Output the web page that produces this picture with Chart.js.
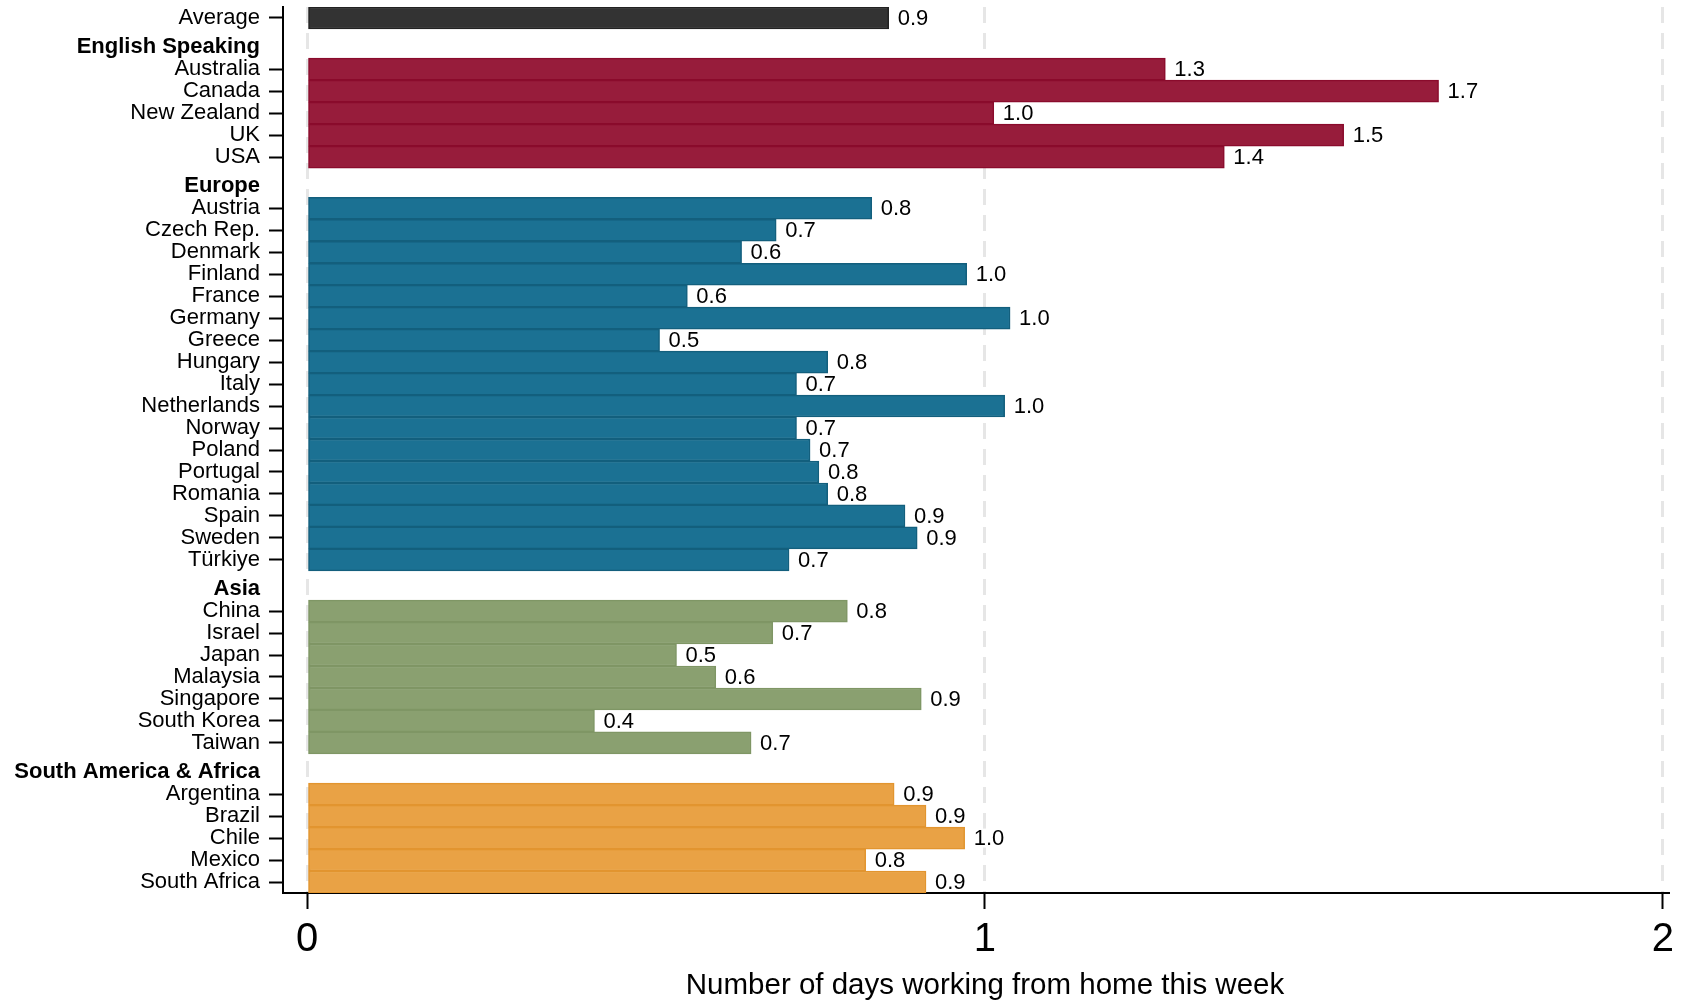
<!DOCTYPE html>
<html>
<head>
<meta charset="utf-8">
<script src="https://cdn.jsdelivr.net/npm/chart.js@4"></script>
<style>
  body { margin: 0; background: #fff; }
  #wrap { width: 1690px; height: 1000px; position: relative; }
</style>
</head>
<body>
<div id="wrap"><canvas id="chart"></canvas></div>
<script>
// Data
const averageLabels = ['Average'];
const averageValues = [0.858];

const englishCountries = ['Australia', 'Canada', 'New Zealand', 'UK', 'USA'];
const englishValues = [1.266, 1.669, 1.013, 1.529, 1.353];

const europeCountries = ['Austria', 'Czech Rep.', 'Denmark', 'Finland', 'France', 'Germany', 'Greece',
  'Hungary', 'Italy', 'Netherlands', 'Norway', 'Poland', 'Portugal', 'Romania', 'Spain', 'Sweden', 'Türkiye'];
const europeValues = [0.833, 0.692, 0.641, 0.973, 0.561, 1.037, 0.520, 0.768, 0.722, 1.029,
  0.722, 0.742, 0.755, 0.768, 0.882, 0.900, 0.711];

const asiaCountries = ['China', 'Israel', 'Japan', 'Malaysia', 'Singapore', 'South Korea', 'Taiwan'];
const asiaValues = [0.797, 0.687, 0.545, 0.603, 0.906, 0.424, 0.655];

const otherCountries = ['Argentina', 'Brazil', 'Chile', 'Mexico', 'South Africa'];
const otherValues = [0.866, 0.913, 0.970, 0.824, 0.913];

const xTicks = [0, 1, 2];
const xTitle = 'Number of days working from home this week';

// groups: header, labels, values, colours
const groups = [
  { header: null, labels: averageLabels, values: averageValues, fill: '#333333', line: '#222222' },
  { header: 'English Speaking', labels: englishCountries, values: englishValues, fill: '#971c3b', line: '#8a0b2c' },
  { header: 'Europe', labels: europeCountries, values: europeValues, fill: '#1b7193', line: '#135f7d' },
  { header: 'Asia', labels: asiaCountries, values: asiaValues, fill: '#8aa070', line: '#7f9665' },
  { header: 'South America & Africa', labels: otherCountries, values: otherValues, fill: '#e9a245', line: '#e2952f' }
];

const GROUP_GAP = 2.33;   // spacing between groups, in rows
const FONT = '"Liberation Sans", Arial, sans-serif';

// build bar data and y ticks
const barData = [];
const barFill = [];
const barLine = [];
const tickInfo = [];
let pos = -GROUP_GAP;
groups.forEach(g => {
    pos += GROUP_GAP;
    if (g.header) {
        tickInfo.push({ value: pos - 1, label: g.header, header: true });
    }
    g.labels.forEach((lab, i) => {
        barData.push({ x: g.values[i], y: pos });
        barFill.push(g.fill);
        barLine.push(g.line);
        tickInfo.push({ value: pos, label: lab, header: false });
        pos += 1;
    });
    pos -= 1;
});
const lastPos = pos;

// value labels with white box, and the axis title centred on the 0..2 range
const valueLabels = {
    id: 'valueLabels',
    afterDatasetsDraw(chart) {
        const ctx = chart.ctx;
        const meta = chart.getDatasetMeta(0);
        ctx.save();
        ctx.font = '22px ' + FONT;
        ctx.textBaseline = 'middle';
        meta.data.forEach((bar, i) => {
            const p = bar.getProps(['x', 'y', 'height'], true);
            const text = barData[i].x.toFixed(1);
            const w = ctx.measureText(text).width;
            ctx.fillStyle = '#ffffff';
            ctx.fillRect(p.x + 1, p.y - p.height / 2 + 1.5, w + 12, p.height - 3);
            ctx.fillStyle = '#000000';
            ctx.fillText(text, p.x + 9, p.y + 1);
        });
        ctx.restore();
    },
    afterDraw(chart) {
        const ctx = chart.ctx;
        const xs = chart.scales.x;
        const cx = (xs.getPixelForValue(xTicks[0]) + xs.getPixelForValue(xTicks[xTicks.length - 1])) / 2;
        ctx.save();
        ctx.font = '29.5px ' + FONT;
        ctx.fillStyle = '#000';
        ctx.textAlign = 'center';
        ctx.textBaseline = 'middle';
        ctx.fillText(xTitle, cx, 986);
        ctx.restore();
    }
};

new Chart(document.getElementById('chart'), {
    type: 'bar',
    data: {
        datasets: [{
            data: barData,
            backgroundColor: barFill,
            borderColor: barLine,
            borderWidth: 1.5,
            borderSkipped: false,
            barPercentage: 1,
            categoryPercentage: 1
        }]
    },
    options: {
        indexAxis: 'y',
        responsive: true,
        maintainAspectRatio: false,
        animation: false,
        layout: { padding: { left: 0, right: 22, top: 7, bottom: 0 } },
        plugins: {
            legend: { display: false },
            tooltip: { enabled: false }
        },
        scales: {
            y: {
                type: 'linear',
                reverse: true,
                offset: false,
                min: -0.5,
                max: lastPos + 0.5,
                afterBuildTicks: scale => {
                    scale.ticks = tickInfo.map(t => ({ value: t.value }));
                },
                afterFit: scale => {
                    scale.width = 283;
                    scale.paddingTop = 0;
                    scale.paddingBottom = 0;
                },
                grid: {
                    offset: false,
                    drawOnChartArea: false,
                    drawTicks: true,
                    tickLength: 14,
                    tickWidth: 2,
                    tickColor: ctx => (tickInfo[ctx.index] && tickInfo[ctx.index].header) ? 'rgba(0,0,0,0)' : '#000'
                },
                border: { display: true, color: '#000', width: 2 },
                ticks: {
                    autoSkip: false,
                    padding: 9,
                    color: '#000',
                    callback: (value, index) => tickInfo[index] ? tickInfo[index].label : '',
                    font: ctx => ({
                        family: FONT,
                        size: 22,
                        weight: (tickInfo[ctx.index] && tickInfo[ctx.index].header) ? 'bold' : 'normal'
                    })
                }
            },
            x: {
                type: 'linear',
                position: 'bottom',
                offset: false,
                min: -0.0354,
                max: 2.0074,
                afterBuildTicks: scale => {
                    scale.ticks = xTicks.map(v => ({ value: v }));
                },
                afterFit: scale => {
                    scale.height = 107;
                    scale.paddingLeft = 0;
                    scale.paddingRight = 0;
                },
                grid: {
                    offset: false,
                    color: '#e6e6e6',
                    lineWidth: 3,
                    drawTicks: true,
                    tickLength: 16,
                    tickWidth: 2,
                    tickColor: '#000'
                },
                border: { display: true, color: '#000', width: 2, dash: [16, 10] },
                ticks: {
                    autoSkip: false,
                    padding: 7,
                    color: '#000',
                    font: { family: FONT, size: 40 },
                    callback: v => String(v)
                },
                title: { display: false }
            }
        }
    },
    plugins: [valueLabels]
});
</script>
</body>
</html>
